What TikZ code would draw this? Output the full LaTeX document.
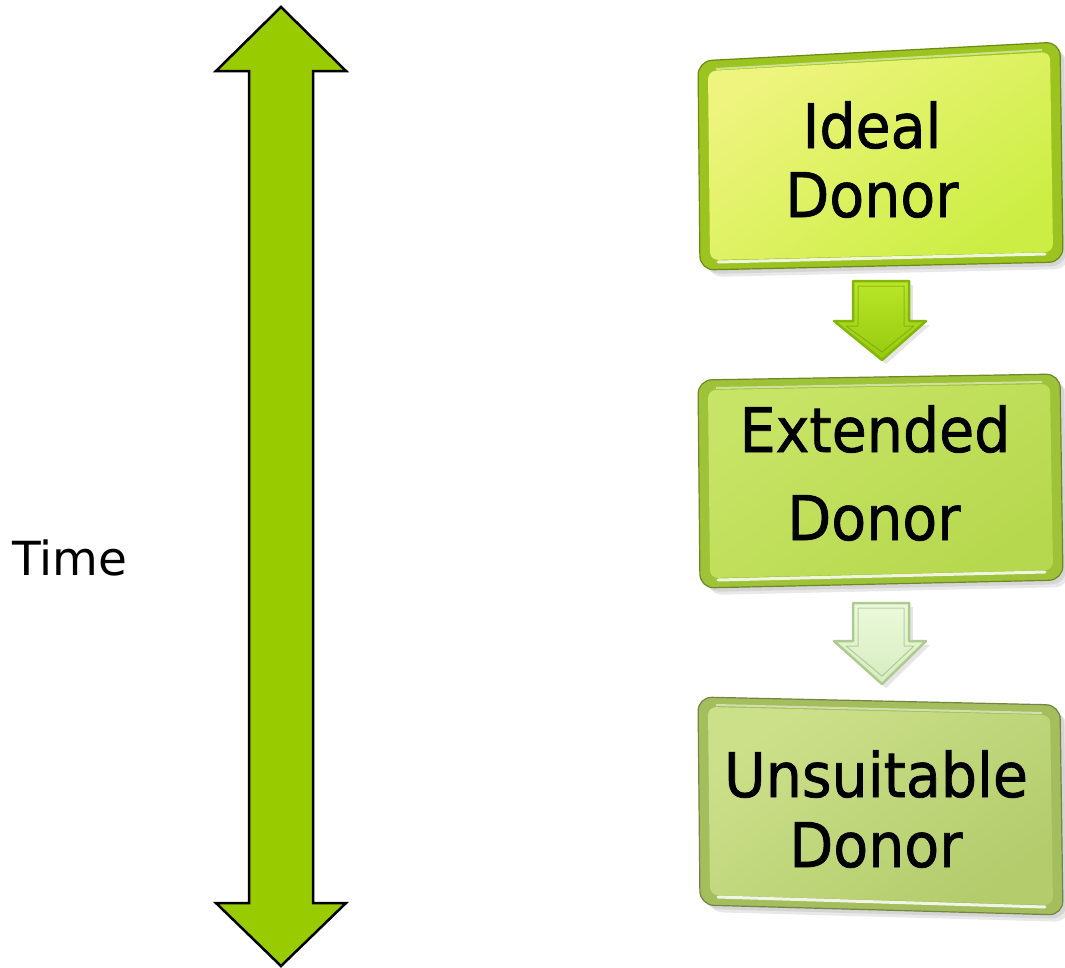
\documentclass[tikz,border=0pt]{standalone}
\usepackage{fontspec}
\setmainfont{DejaVu Sans}
\newfontfamily\boxfont[FakeBold=1.2]{DejaVu Sans}
\usetikzlibrary{calc}
\definecolor{bigarrow}{HTML}{99CC00}
\definecolor{bevA}{HTML}{9CC420}
\definecolor{inA1}{HTML}{EEF47E}
\definecolor{inA2}{HTML}{CCEE44}
\definecolor{bevB}{HTML}{9EC238}
\definecolor{inB1}{HTML}{C8E466}
\definecolor{inB2}{HTML}{B6D84E}
\definecolor{bevC}{HTML}{A4BE5E}
\definecolor{inC1}{HTML}{CCE08A}
\definecolor{inC2}{HTML}{B4CC6C}
\definecolor{arA1}{HTML}{BAE628}
\definecolor{arA2}{HTML}{96CA0E}
\definecolor{arAe}{HTML}{84B60A}
\definecolor{arB1}{HTML}{ECFADC}
\definecolor{arB2}{HTML}{D6ECBE}
\definecolor{arBe}{HTML}{AECA90}
\tikzset{
  boxtext/.style={font=\boxfont\fontsize{57}{60}\selectfont, anchor=base, inner sep=0pt},
  timetext/.style={font=\fontsize{47}{50}\selectfont, anchor=base, inner sep=0pt},
  shadowfill/.style={fill=gray, opacity=.18, rounded corners=16pt},
  highlight/.style={draw=white, opacity=.85, line width=3pt, line cap=round},
}
% #1 TL, #2 TR, #3 BR, #4 BL, #5 bevel colour, #6 top colour, #7 bottom colour
\newcommand\donorbox[7]{%
  \fill[shadowfill, shift={(7,7)}] (#1) -- (#2) -- (#3) -- (#4) -- cycle;
  \fill[shadowfill, shift={(4,4)}] (#1) -- (#2) -- (#3) -- (#4) -- cycle;
  \fill[#5, rounded corners=14pt] (#1) -- (#2) -- (#3) -- (#4) -- cycle;
  \draw[#5!70!black, line width=1.2pt, rounded corners=14pt] (#1) -- (#2) -- (#3) -- (#4) -- cycle;
  \shade[shading=axis, top color=#6, bottom color=#7, shading angle=35, rounded corners=8pt]
    ($(#1)+(10,10)$) -- ($(#2)+(-10,10)$) -- ($(#3)+(-10,-10)$) -- ($(#4)+(10,-10)$) -- cycle;
  \draw[white, opacity=.5, line width=2pt] ($(#1)+(18,8)$) -- ($(#2)+(-18,8)$);
  \draw[highlight] ($(#4)+(18,-8)$) -- ($(#3)+(-18,-8)$);
}
% small down arrow: #1 x-left shaft, #2 top, #3 head base y, #4 tip y, #5 top colour, #6 bottom colour, #7 edge colour
\newcommand\steparrow[7]{%
  \fill[gray, opacity=.2, shift={(4,4)}] (#1,#2) -- (#1+56,#2) -- (#1+56,#3) -- (#1+73,#3) -- (#1+29,#4) -- (#1-19,#3) -- (#1,#3) -- cycle;
  \shade[shading=axis, top color=#5, bottom color=#6, draw=#7, line width=2.5pt, line join=round]
    (#1,#2) -- (#1+56,#2) -- (#1+56,#3) -- (#1+73,#3) -- (#1+29,#4) -- (#1-19,#3) -- (#1,#3) -- cycle;
  \draw[#7!80!black, opacity=.5, line width=1pt, line join=round]
    (#1+5,#2+5) -- (#1+51,#2+5) -- (#1+51,#3+5) -- (#1+61,#3+5) -- (#1+29,#4-8) -- (#1-7,#3+5) -- (#1+5,#3+5) -- cycle;
}
\begin{document}
\begin{tikzpicture}[x=1pt,y=-1pt]
\useasboundingbox (0,0) rectangle (1065,967);
\fill[white] (0,0) rectangle (1065,967);

% Time axis double arrow
\filldraw[fill=bigarrow, draw=black, line width=2.5pt, line join=miter]
  (281,7) -- (346,71) -- (313,71) -- (313,903) -- (346,903) -- (281,966)
  -- (216,903) -- (249,903) -- (249,71) -- (216,71) -- cycle;
\node[timetext] (time) at (70,575) {Time};

% boxes
\donorbox{698,61}{1060,42}{1063,262}{700,270}{bevA}{inA1}{inA2}
\donorbox{698,380}{1060,374}{1063,580}{700,588}{bevB}{inB1}{inB2}
\donorbox{698,697}{1060,705}{1063,915}{700,905}{bevC}{inC1}{inC2}

\node[boxtext] (ideal1) at (872,148) {\scalebox{1}[1.08]{Ideal}};
\node[boxtext] (ideal2) at (872,217) {\scalebox{1}[1.08]{Donor}};
\node[boxtext] (ext1) at (875,452) {\scalebox{1}[1.08]{Extended}};
\node[boxtext] (ext2) at (874,540) {\scalebox{1}[1.08]{Donor}};
\node[boxtext] (uns1) at (876,797) {\scalebox{1}[1.08]{Unsuitable}};
\node[boxtext] (uns2) at (876,867) {\scalebox{1}[1.08]{Donor}};

% step arrows
\steparrow{853}{281}{321}{360}{arA1}{arA2}{arAe}
\steparrow{853}{603}{641}{684}{arB1}{arB2}{arBe}
\end{tikzpicture}
\end{document}
